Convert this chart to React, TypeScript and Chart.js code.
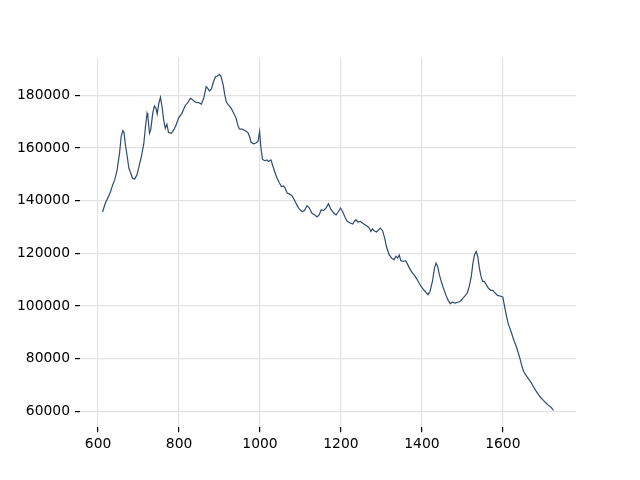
import React, { useEffect, useRef } from "react";
import { Chart, registerables } from "chart.js";

Chart.register(...registerables);

const wavenumbers: number[] = [
  611, 618, 625, 630, 636, 641, 647, 653, 657, 661, 664, 667, 672, 676, 680, 685, 690, 696, 702, 707,
  713, 717, 721, 723, 727, 730, 735, 739, 743, 746, 750, 754, 758, 762, 766, 770, 774, 781, 787, 792,
  799, 807, 815, 822, 828, 834, 840, 848, 855, 861, 867, 871, 875, 880, 885, 890, 895, 900, 904, 909,
  913, 917, 922, 929, 935, 941, 945, 949, 956, 964, 970, 974, 978, 984, 990, 995, 999, 1002, 1006, 1011,
  1017, 1021, 1027, 1031, 1036, 1042, 1048, 1053, 1058, 1062, 1067, 1072, 1079, 1085, 1091, 1097, 1104, 1110, 1116, 1122,
  1128, 1135, 1141, 1146, 1151, 1157, 1163, 1169, 1175, 1182, 1188, 1193, 1199, 1204, 1211, 1216, 1223, 1229, 1233, 1237,
  1242, 1248, 1253, 1260, 1266, 1270, 1274, 1278, 1282, 1288, 1293, 1297, 1303, 1308, 1313, 1319, 1326, 1331, 1336, 1340,
  1344, 1348, 1354, 1360, 1365, 1371, 1377, 1383, 1391, 1398, 1404, 1410, 1415, 1420, 1426, 1431, 1435, 1439, 1443, 1449,
  1453, 1459, 1464, 1470, 1475, 1482, 1489, 1494, 1500, 1507, 1512, 1517, 1522, 1526, 1530, 1534, 1538, 1542, 1546, 1550,
  1554, 1559, 1564, 1570, 1575, 1581, 1587, 1595, 1600, 1605, 1610, 1614, 1620, 1624, 1628, 1633, 1638, 1643, 1647, 1651,
  1657, 1663, 1670, 1675, 1681, 1688, 1694, 1700, 1706, 1712, 1719, 1725,
];

const intensities: number[] = [
  135700, 139100, 141400, 143100, 146000, 147900, 151700, 158100, 164400, 166600, 165900, 161800, 156800, 152400, 150700, 148600, 148200, 149800, 153600, 156800,
  161800, 168100, 173200, 172000, 165600, 166900, 173200, 176000, 175100, 173000, 177000, 179300, 175700, 170700, 167500, 169000, 165900, 165600, 166900, 168500,
  171500, 173200, 176100, 177400, 178900, 178300, 177400, 177300, 176700, 178900, 183300, 182700, 181700, 182500, 185200, 187100, 187400, 188000, 187100, 184000,
  180200, 177400, 176400, 175100, 173200, 171300, 168800, 167300, 167200, 166600, 165900, 164400, 162200, 161600, 161900, 162500, 166300, 160600, 155800, 155200,
  155500, 154900, 155500, 153600, 151100, 148600, 146700, 145400, 145600, 144800, 142900, 142600, 141900, 140300, 138400, 136800, 135900, 136300, 138100, 137200,
  135300, 134600, 133800, 134600, 136500, 136300, 137200, 138800, 136800, 135300, 134600, 135700, 137200, 135900, 133400, 132100, 131500, 131100, 132100, 132800,
  131900, 132100, 131500, 130800, 130200, 129600, 128300, 129300, 128600, 128100, 128900, 129600, 128600, 125800, 122200, 119500, 118000, 117600, 118900, 118200,
  119300, 117200, 116900, 117200, 115700, 113800, 112500, 111300, 109300, 107400, 106200, 105200, 104300, 105500, 109300, 114400, 116300, 115000, 111900, 108700,
  106800, 104300, 102400, 100900, 101400, 101100, 101400, 101700, 102700, 103900, 104900, 107400, 111200, 116300, 119500, 120700, 118800, 114400, 111200, 109300,
  109300, 108100, 106800, 105900, 105900, 104900, 104000, 103700, 103300, 99200, 95400, 92900, 90400, 88500, 86600, 84700, 82200, 79600, 77100, 75200,
  73700, 72400, 70800, 69500, 67900, 66300, 65100, 64100, 63200, 62300, 61500, 60300,
];

const xTickValues: number[] = [600, 800, 1000, 1200, 1400, 1600];
const yTickValues: number[] = [60000, 80000, 100000, 120000, 140000, 160000, 180000];

export default function App() {
  const canvasRef = useRef<HTMLCanvasElement | null>(null);

  useEffect(() => {
    const canvas = canvasRef.current;
    if (!canvas) return;

    const xMinD = Math.min(...wavenumbers);
    const xMaxD = Math.max(...wavenumbers);
    const yMinD = Math.min(...intensities);
    const yMaxD = Math.max(...intensities);
    const xm = (xMaxD - xMinD) * 0.05;
    const ym = (yMaxD - yMinD) * 0.05;

    const font = { family: "DejaVu Sans", size: 13.89 };

    const chart = new Chart(canvas, {
      type: "line",
      data: {
        datasets: [
          {
            data: wavenumbers.map((x, i) => ({ x, y: intensities[i] })),
            borderColor: "#2f4b6e",
            borderWidth: 1.2,
            pointRadius: 0,
            tension: 0,
            fill: false,
          },
        ],
      },
      options: {
        animation: false,
        responsive: false,
        devicePixelRatio: 1,
        layout: { padding: { top: 57.6, right: 64, left: 0, bottom: 0 } },
        plugins: { legend: { display: false }, tooltip: { enabled: false } },
        scales: {
          x: {
            type: "linear",
            min: xMinD - xm,
            max: xMaxD + xm,
            border: { display: false },
            grid: { color: "#e3e3e3", lineWidth: 1.2, tickColor: "#000", tickLength: 5 },
            ticks: { color: "#000", font, padding: 4, maxRotation: 0, callback: (v: any) => String(v) },
            afterBuildTicks: (s: any) => {
              s.ticks = xTickValues.map((v) => ({ value: v }));
            },
            afterFit: (s: any) => {
              s.height = 52.8;
            },
          },
          y: {
            type: "linear",
            min: yMinD - ym,
            max: yMaxD + ym,
            border: { display: false },
            grid: { color: "#e3e3e3", lineWidth: 1.2, tickColor: "#000", tickLength: 5 },
            ticks: { color: "#000", font, padding: 5, callback: (v: any) => String(v) },
            afterBuildTicks: (s: any) => {
              s.ticks = yTickValues.map((v) => ({ value: v }));
            },
            afterFit: (s: any) => {
              s.width = 80;
            },
          },
        },
      },
    });

    return () => chart.destroy();
  }, []);

  return (
    <div style={{ position: "absolute", left: 0, top: 0, width: 640, height: 480, background: "#fff" }}>
      <canvas ref={canvasRef} width={640} height={480} />
    </div>
  );
}
